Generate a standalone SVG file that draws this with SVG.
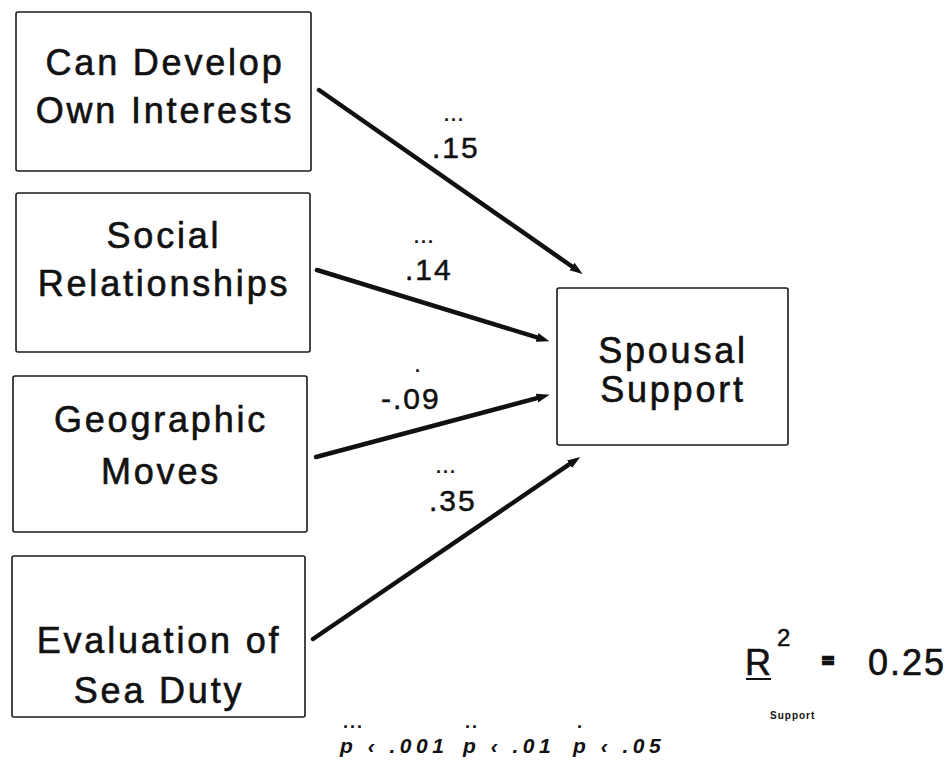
<svg xmlns="http://www.w3.org/2000/svg" width="949" height="760" viewBox="0 0 949 760">
  <defs>
    <style>
      .box { fill: #ffffff; stroke: #1a1a1a; stroke-width: 1.6; }
      .lbl { font-family: "Liberation Sans", Arial, sans-serif; font-size: 36px; letter-spacing: 2.8px; fill: #111; stroke: #111; stroke-width: 0.6px; text-anchor: middle; }
      .coef { font-family: "Liberation Sans", Arial, sans-serif; font-size: 30px; letter-spacing: 2px; fill: #111; stroke: #111; stroke-width: 0.5px; }
      .sig { font-family: "Liberation Sans", Arial, sans-serif; font-size: 18px; letter-spacing: 2px; fill: #111; font-weight: bold; }
      .path { stroke: #111; stroke-width: 4.5; stroke-linecap: round; fill: none; marker-end: url(#head); }
      .foot { font-family: "Liberation Sans", Arial, sans-serif; font-size: 21px; font-style: italic; font-weight: bold; letter-spacing: 4.5px; fill: #111; }
    </style>
    <marker id="head" markerUnits="userSpaceOnUse" markerWidth="14" markerHeight="11" refX="0" refY="5.5" orient="auto">
      <path d="M0,1 L13,5.5 L0,10 z" fill="#111"/>
    </marker>
  </defs>

  <rect width="949" height="760" fill="#ffffff"/>

  <!-- predictor boxes -->
  <g id="node-interests">
    <rect class="box" x="16" y="12" width="295" height="159" rx="2"/>
    <text class="lbl" x="165" y="75">Can Develop</text>
    <text class="lbl" x="165" y="123">Own Interests</text>
  </g>
  <g id="node-social">
    <rect class="box" x="16" y="193" width="294" height="159" rx="2"/>
    <text class="lbl" x="164" y="248">Social</text>
    <text class="lbl" x="164" y="296">Relationships</text>
  </g>
  <g id="node-moves">
    <rect class="box" x="13" y="376" width="294" height="156" rx="2"/>
    <text class="lbl" x="161" y="432">Geographic</text>
    <text class="lbl" x="161" y="484">Moves</text>
  </g>
  <g id="node-seaduty">
    <rect class="box" x="12" y="556" width="293" height="161" rx="2"/>
    <text class="lbl" x="159" y="653">Evaluation of</text>
    <text class="lbl" x="159" y="703">Sea Duty</text>
  </g>

  <!-- outcome box -->
  <g id="node-support">
    <rect class="box" x="557" y="288" width="231" height="157" rx="2"/>
    <text class="lbl" x="673" y="363">Spousal</text>
    <text class="lbl" x="673" y="402">Support</text>
  </g>

  <!-- paths into the outcome -->
  <g id="connectors">
    <line class="path" x1="319" y1="90" x2="572" y2="266.5"/>
    <line class="path" x1="317" y1="270" x2="537" y2="337.4"/>
    <line class="path" x1="316" y1="457" x2="537" y2="398.2"/>
    <line class="path" x1="313" y1="639" x2="569.5" y2="464.2"/>
  </g>

  <g id="coefficients">
    <text class="sig" x="444" y="121">...</text>
    <text class="coef" x="432" y="158">.15</text>
    <text class="sig" x="414" y="243">...</text>
    <text class="coef" x="405" y="280">.14</text>
    <text class="sig" x="415" y="372">.</text>
    <text class="coef" x="381" y="409">-.09</text>
    <text class="sig" x="436" y="473">...</text>
    <text class="coef" x="429" y="511">.35</text>
  </g>

  <!-- explained variance -->
  <g id="r-squared">
    <text class="lbl" x="745" y="675" style="text-anchor:start">R</text>
    <line x1="746" y1="679" x2="771" y2="679" stroke="#111" stroke-width="2"/>
    <text x="777" y="646" font-family="Liberation Sans, Arial, sans-serif" font-size="24" fill="#111" stroke="#111" stroke-width="0.5">2</text>
    <text x="770" y="719" font-family="Liberation Sans, Arial, sans-serif" font-size="10" font-weight="bold" letter-spacing="1" fill="#111">Support</text>
    <text x="828" y="667" font-family="Liberation Sans, Arial, sans-serif" font-size="19" font-weight="bold" fill="#111" stroke="#111" stroke-width="2.6" text-anchor="middle">=</text>
    <text class="lbl" x="946" y="675" style="text-anchor:end;letter-spacing:2px">0.25</text>
  </g>

  <!-- significance key -->
  <g id="legend">
    <text class="sig" x="343" y="728">...</text>
    <text class="foot" x="340" y="753">p ‹ .001</text>
    <text class="sig" x="465" y="728">..</text>
    <text class="foot" x="463" y="753">p ‹ .01</text>
    <text class="sig" x="577" y="728">.</text>
    <text class="foot" x="573" y="753">p ‹ .05</text>
  </g>
</svg>
